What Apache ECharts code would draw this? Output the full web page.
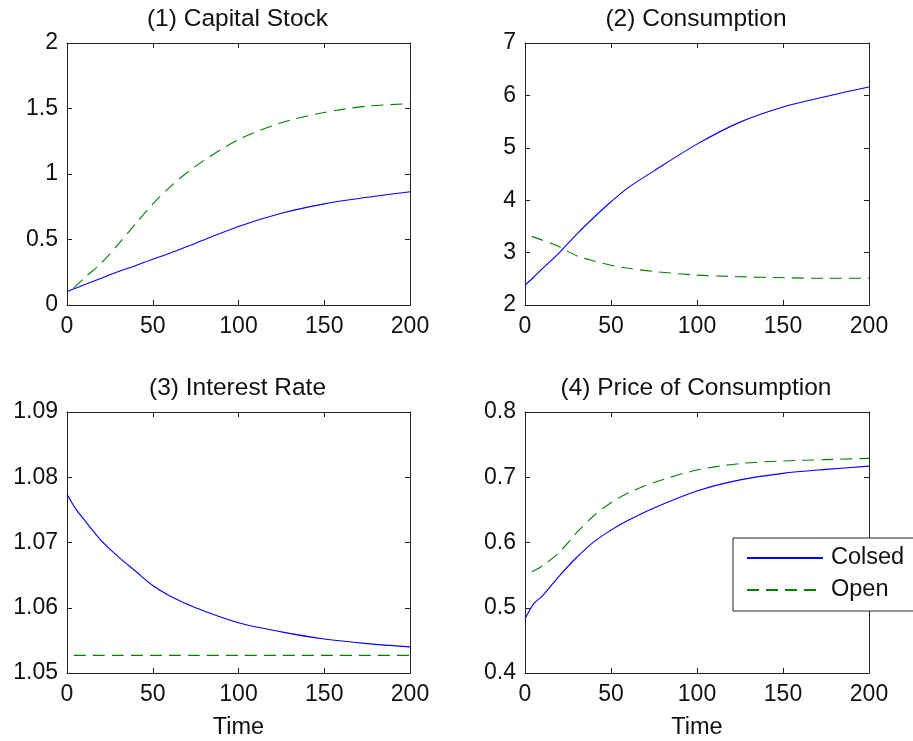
<!DOCTYPE html>
<html>
<head>
<meta charset="utf-8">
<script src="https://cdn.jsdelivr.net/npm/echarts@6/dist/echarts.min.js"></script>
<style>
  html, body { margin: 0; padding: 0; background: #fff; }
  #chart { width: 913px; height: 741px; }
</style>
</head>
<body>
<div id="chart"></div>
<script>
// Time grids of the two simulated economies
const timeClosed = [0, 5, 10, 20, 30, 40, 50, 60, 75, 100, 125, 150, 175, 200];
const timeOpen   = [4, 10, 20, 30, 40, 50, 60, 75, 100, 125, 150, 175, 200];

// (1) Capital stock
const capitalClosed = [0.104, 0.128, 0.155, 0.205, 0.256, 0.300, 0.350, 0.395, 0.472, 0.599, 0.700, 0.772, 0.822, 0.865];
const capitalOpen   = [0.13, 0.205, 0.32, 0.465, 0.62, 0.77, 0.90, 1.06, 1.262, 1.391, 1.47, 1.518, 1.536];

// (2) Consumption
const consumptionClosed = [2.38, 2.53, 2.69, 3.00, 3.35, 3.67, 3.97, 4.24, 4.56, 5.07, 5.49, 5.78, 5.98, 6.16];
const consumptionOpen   = [3.31, 3.24, 3.11, 2.94, 2.84, 2.76, 2.70, 2.64, 2.57, 2.54, 2.52, 2.51, 2.51];

// (3) Interest rate
const rateClosed = [1.0774, 1.0752, 1.0735, 1.0703, 1.0678, 1.0656, 1.0634, 1.0618, 1.0600, 1.0577, 1.0563, 1.0552, 1.0545, 1.0540];
const rateOpen   = [1.0527, 1.0527, 1.0527, 1.0527, 1.0527, 1.0527, 1.0527, 1.0527, 1.0527, 1.0527, 1.0527, 1.0527, 1.0527];

// (4) Price of consumption
const priceClosed = [0.483, 0.506, 0.518, 0.549, 0.577, 0.601, 0.619, 0.634, 0.653, 0.679, 0.696, 0.706, 0.712, 0.717];
const priceOpen   = [0.555, 0.564, 0.585, 0.615, 0.641, 0.661, 0.676, 0.692, 0.711, 0.721, 0.725, 0.727, 0.729];

// Panel titles and y-axis ranges
const panelTitles = ['(1) Capital Stock', '(2) Consumption', '(3) Interest Rate', '(4) Price of Consumption'];
const yRanges = [
  { min: 0, max: 2, interval: 0.5 },
  { min: 2, max: 7, interval: 1 },
  { min: 1.05, max: 1.09, interval: 0.01 },
  { min: 0.4, max: 0.8, interval: 0.1 }
];
const xRange = { min: 0, max: 200, interval: 50 };
const seriesNames = ['Colsed', 'Open'];
const panelData = [
  [capitalClosed, capitalOpen],
  [consumptionClosed, consumptionOpen],
  [rateClosed, rateOpen],
  [priceClosed, priceOpen]
];

const FONT = "'Liberation Sans', Arial, Helvetica, sans-serif";
const INK = '#111';
const BOX = '#222';

const grids = [
  { left: 67,  top: 43,  width: 343, height: 262 },
  { left: 525, top: 43,  width: 344, height: 262 },
  { left: 67,  top: 412, width: 343, height: 262 },
  { left: 525, top: 412, width: 344, height: 262 }
];

const fmt = v => String(+v.toFixed(4));
const tick = { show: true, inside: true, length: 5, lineStyle: { color: BOX, width: 1 } };
const line = { show: true, onZero: false, lineStyle: { color: BOX, width: 1 } };

const xAxes = [], yAxes = [], series = [], titles = [];
grids.forEach((g, i) => {
  titles.push({
    text: panelTitles[i],
    left: g.left + g.width / 2 - 6,
    top: i < 2 ? 2 : 371,
    textAlign: 'center',
    textStyle: { fontFamily: FONT, fontSize: 24.5, fontWeight: 'normal', color: INK }
  });
  // bottom x axis with labels
  xAxes.push(Object.assign({
    type: 'value', gridIndex: i, position: 'bottom',
    axisLine: line, axisTick: tick, splitLine: { show: false },
    axisLabel: { show: true, margin: 10, fontFamily: FONT, fontSize: 23, color: INK, formatter: fmt },
    name: i >= 2 ? 'Time' : '',
    nameLocation: 'middle', nameGap: 43,
    nameTextStyle: { fontFamily: FONT, fontSize: 23.5, color: INK }
  }, xRange));
  // top x axis: ticks only
  xAxes.push(Object.assign({
    type: 'value', gridIndex: i, position: 'top',
    axisLine: line, axisTick: tick, splitLine: { show: false },
    axisLabel: { show: false }
  }, xRange));
  // left y axis with labels
  yAxes.push(Object.assign({
    type: 'value', gridIndex: i, position: 'left',
    axisLine: line, axisTick: tick, splitLine: { show: false },
    axisLabel: { show: true, margin: 9, fontFamily: FONT, fontSize: 23, color: INK, formatter: fmt }
  }, yRanges[i]));
  // right y axis: ticks only
  yAxes.push(Object.assign({
    type: 'value', gridIndex: i, position: 'right',
    axisLine: line, axisTick: tick, splitLine: { show: false },
    axisLabel: { show: false }
  }, yRanges[i]));

  const [closed, open] = panelData[i];
  series.push({
    name: seriesNames[0], type: 'line',
    xAxisIndex: 2 * i, yAxisIndex: 2 * i,
    data: timeClosed.map((t, k) => [t, closed[k]]),
    symbol: 'none', smooth: 0.3,
    lineStyle: { color: '#0000ff', width: 1.1 },
    itemStyle: { color: '#0000ff' },
    animation: false
  });
  series.push({
    name: seriesNames[1], type: 'line',
    xAxisIndex: 2 * i, yAxisIndex: 2 * i,
    data: timeOpen.map((t, k) => [t, open[k]]),
    symbol: 'none', smooth: 0.3,
    lineStyle: { color: '#008000', width: 1.1, type: [12, 7] },
    itemStyle: { color: '#008000' },
    animation: false
  });
});

const chart = echarts.init(document.getElementById('chart'), null, { renderer: 'canvas' });
chart.setOption({
  backgroundColor: '#fff',
  animation: false,
  title: titles,
  grid: grids,
  xAxis: xAxes,
  yAxis: yAxes,
  series: series,
  legend: {
    data: seriesNames,
    orient: 'vertical',
    left: 733, top: 538,
    itemWidth: 76, itemHeight: 14, itemGap: 8,
    padding: [8, 14, 9, 13],
    backgroundColor: '#fff',
    borderColor: BOX, borderWidth: 1, borderRadius: 0,
    z: 10,
    selectedMode: false,
    itemStyle: { opacity: 0, borderWidth: 0 },
    textStyle: { fontFamily: FONT, fontSize: 23.5, color: INK, padding: [0, 0, 0, 3] }
  }
});
</script>
</body>
</html>
